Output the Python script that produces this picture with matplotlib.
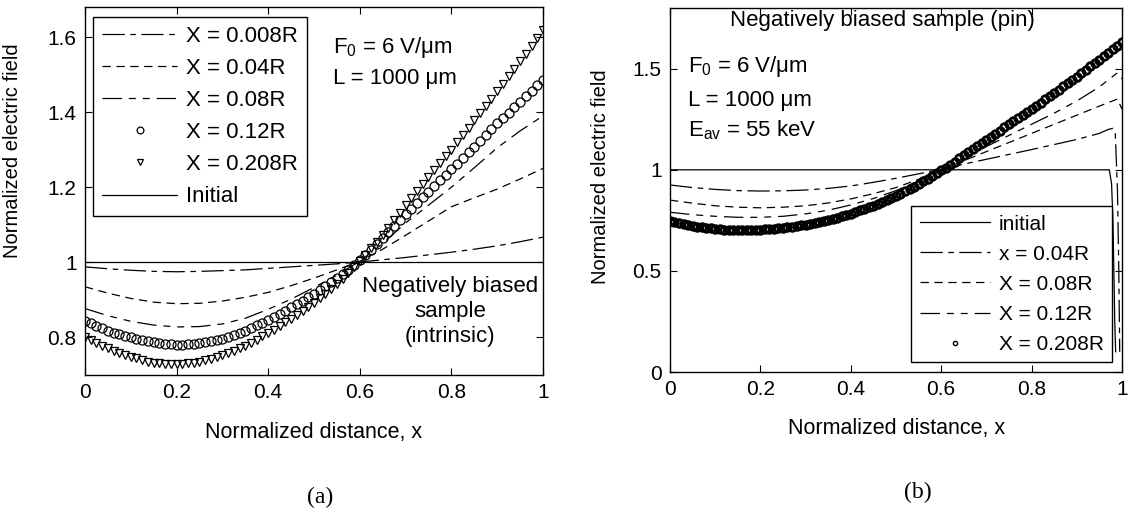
import numpy as np
import matplotlib
matplotlib.use("Agg")
import matplotlib.pyplot as plt

plt.rcParams['font.family'] = ['Liberation Sans', 'DejaVu Sans']
plt.rcParams['mathtext.fontset'] = 'custom'
plt.rcParams['mathtext.rm'] = 'Liberation Sans'
plt.rcParams['mathtext.it'] = 'Liberation Sans:italic'
plt.rcParams['lines.scale_dashes'] = False

# ---------------- data: panel (a) ----------------
xa_lines = [0.00, 0.05, 0.10, 0.15, 0.20, 0.25, 0.30, 0.35, 0.40, 0.45, 0.50,
            0.55, 0.60, 0.65, 0.70, 0.75, 0.80, 0.85, 0.90, 0.95, 1.00]
a_x0008 = [0.988, 0.983, 0.979, 0.976, 0.975, 0.976, 0.978, 0.980, 0.984, 0.988, 0.992,
           0.996, 1.001, 1.007, 1.013, 1.020, 1.027, 1.035, 1.044, 1.055, 1.067]
a_x004 = [0.935, 0.918, 0.904, 0.894, 0.890, 0.891, 0.897, 0.907, 0.920, 0.938, 0.958,
          0.980, 1.003, 1.035, 1.072, 1.110, 1.148, 1.172, 1.195, 1.222, 1.250]
a_x008 = [0.877, 0.858, 0.843, 0.833, 0.828, 0.829, 0.836, 0.851, 0.875, 0.902, 0.933,
          0.966, 1.003, 1.050, 1.105, 1.152, 1.200, 1.252, 1.305, 1.350, 1.390]
a_initial_x = [0.0, 1.0]
a_initial = [1.0, 1.0]

a_x012 = [0.845, 0.838, 0.831, 0.824, 0.818, 0.813, 0.808, 0.804, 0.800, 0.796, 0.793,
          0.790, 0.787, 0.785, 0.783, 0.782, 0.781, 0.781, 0.782, 0.783, 0.785, 0.788,
          0.791, 0.794, 0.797, 0.802, 0.807, 0.812, 0.818, 0.825, 0.832, 0.839, 0.847,
          0.855, 0.863, 0.871, 0.880, 0.889, 0.898, 0.907, 0.916, 0.926, 0.936, 0.947,
          0.958, 0.969, 0.980, 0.992, 1.005, 1.019, 1.034, 1.049, 1.065, 1.081, 1.097,
          1.112, 1.128, 1.143, 1.158, 1.173, 1.188, 1.203, 1.218, 1.233, 1.248, 1.263,
          1.278, 1.293, 1.308, 1.324, 1.339, 1.355, 1.370, 1.385, 1.399, 1.414, 1.428,
          1.442, 1.457, 1.471, 1.485]
a_x0208 = [0.800, 0.792, 0.785, 0.778, 0.771, 0.765, 0.759, 0.753, 0.748, 0.744, 0.740,
           0.736, 0.733, 0.731, 0.730, 0.729, 0.729, 0.730, 0.731, 0.733, 0.735, 0.739,
           0.743, 0.747, 0.752, 0.758, 0.764, 0.771, 0.778, 0.786, 0.794, 0.803, 0.812,
           0.821, 0.831, 0.840, 0.850, 0.860, 0.871, 0.882, 0.893, 0.905, 0.917, 0.930,
           0.943, 0.957, 0.972, 0.987, 1.003, 1.020, 1.037, 1.054, 1.072, 1.092, 1.112,
           1.132, 1.152, 1.171, 1.190, 1.209, 1.228, 1.246, 1.264, 1.282, 1.300, 1.320,
           1.339, 1.359, 1.378, 1.397, 1.417, 1.436, 1.455, 1.475, 1.495, 1.515, 1.535,
           1.556, 1.576, 1.597, 1.618]
xa_markers = np.linspace(0.0, 1.0, len(a_x012))

a_labels = ['X = 0.008R', 'X = 0.04R', 'X = 0.08R', 'X = 0.12R', 'X = 0.208R', 'Initial']
a_yticks = [0.8, 1.0, 1.2, 1.4, 1.6]
a_yticklabels = ['0.8', '1', '1.2', '1.4', '1.6']

# ---------------- data: panel (b) ----------------
b_initial_x = [0.0, 0.972, 0.977, 0.980, 0.982, 0.984, 0.986]
b_initial = [1.0, 1.0, 0.93, 0.75, 0.50, 0.25, 0.10]

xb_x004 = [0.00, 0.05, 0.10, 0.15, 0.20, 0.25, 0.30, 0.35, 0.40, 0.45, 0.50, 0.55, 0.60,
           0.65, 0.70, 0.75, 0.80, 0.85, 0.90, 0.95, 0.97, 0.98, 0.985, 0.99, 0.993, 0.995]
b_x004 = [0.925, 0.912, 0.903, 0.897, 0.895, 0.896, 0.900, 0.908, 0.920, 0.938, 0.958,
          0.980, 1.003, 1.028, 1.052, 1.076, 1.100, 1.125, 1.150, 1.180, 1.200, 1.205,
          1.190, 0.900, 0.500, 0.100]
xb_lines = [0.00, 0.05, 0.10, 0.15, 0.20, 0.25, 0.30, 0.35, 0.40, 0.45, 0.50, 0.55, 0.60,
            0.65, 0.70, 0.75, 0.80, 0.85, 0.90, 0.95, 0.99, 1.00]
b_x008 = [0.850, 0.835, 0.822, 0.815, 0.812, 0.815, 0.822, 0.836, 0.856, 0.882, 0.912,
          0.953, 1.000, 1.045, 1.090, 1.135, 1.180, 1.225, 1.270, 1.315, 1.350, 1.300]
b_x012 = [0.790, 0.778, 0.770, 0.765, 0.765, 0.770, 0.782, 0.800, 0.826, 0.858, 0.897,
          0.945, 1.000, 1.058, 1.115, 1.170, 1.225, 1.280, 1.340, 1.410, 1.480, 1.450]
b_x0208 = [0.745, 0.740, 0.735, 0.731, 0.726, 0.722, 0.719, 0.716, 0.713, 0.710, 0.707,
           0.706, 0.704, 0.703, 0.702, 0.701, 0.701, 0.701, 0.702, 0.702, 0.703, 0.705,
           0.706, 0.708, 0.710, 0.712, 0.715, 0.718, 0.721, 0.725, 0.728, 0.733, 0.737,
           0.742, 0.747, 0.752, 0.758, 0.764, 0.770, 0.777, 0.783, 0.791, 0.799, 0.807,
           0.815, 0.823, 0.832, 0.841, 0.851, 0.861, 0.871, 0.882, 0.893, 0.905, 0.917,
           0.930, 0.943, 0.956, 0.969, 0.983, 0.997, 1.011, 1.026, 1.041, 1.056, 1.071,
           1.087, 1.102, 1.118, 1.133, 1.148, 1.163, 1.179, 1.194, 1.210, 1.225, 1.240,
           1.255, 1.270, 1.285, 1.300, 1.316, 1.332, 1.348, 1.364, 1.380, 1.396, 1.412,
           1.428, 1.444, 1.460, 1.477, 1.494, 1.511, 1.528, 1.545, 1.562, 1.579, 1.596,
           1.613, 1.630]
xb_markers = np.linspace(0.0, 1.0, len(b_x0208))

b_labels = ['initial', 'x = 0.04R', 'X = 0.08R', 'X = 0.12R', 'X = 0.208R']
b_yticks = [0.0, 0.5, 1.0, 1.5]
b_yticklabels = ['0', '0.5', '1', '1.5']

xticks = [0.0, 0.2, 0.4, 0.6, 0.8, 1.0]
xticklabels = ['0', '0.2', '0.4', '0.6', '0.8', '1']

# ---------------- styles ----------------
DASH_LONG_SHORT = (0, (16, 4, 4, 4))
DASHED = (0, (6, 4))
DASH_LONG_2SHORT = (0, (14, 5, 5, 5, 5, 5))
LW = 0.9
FS = 16          # annotation text
FS_LAB = 15.5    # axis labels
FS_TICK = 15     # tick labels

fig = plt.figure(figsize=(11.3, 5.11), dpi=100)
axa = fig.add_axes([0.0752, 0.2661, 0.4053, 0.7202])
axb = fig.add_axes([0.5929, 0.2720, 0.4000, 0.7123])

# panel (a)
la1, = axa.plot(xa_lines, a_x0008, color='black', lw=LW, linestyle=DASH_LONG_SHORT)
la2, = axa.plot(xa_lines, a_x004, color='black', lw=LW, linestyle=DASHED)
la3, = axa.plot(xa_lines, a_x008, color='black', lw=LW, linestyle=DASH_LONG_2SHORT)
la4, = axa.plot(xa_markers, a_x012, linestyle='none', marker='o', ms=6.5,
                mfc='none', mec='black', mew=0.9)
la5, = axa.plot(xa_markers, a_x0208, linestyle='none', marker='v', ms=6,
                mfc='none', mec='black', mew=0.9)
la6, = axa.plot(a_initial_x, a_initial, color='black', lw=LW, linestyle='-')

axa.set_xlim(0, 1)
axa.set_ylim(0.7, 1.68)
axa.set_xticks(xticks)
axa.set_xticklabels(xticklabels)
axa.set_yticks(a_yticks)
axa.set_yticklabels(a_yticklabels)
axa.set_xlabel('Normalized distance, x', fontsize=FS_LAB)
axa.set_ylabel('Normalized electric field', fontsize=14.5)
axa.xaxis.set_label_coords(0.5, -0.127)
axa.yaxis.set_label_coords(-0.138, 0.61)

leg_a = axa.legend([la1, la2, la3, la4, la5, la6], a_labels, loc='upper left',
                   bbox_to_anchor=(0.0175, 0.973), borderaxespad=0, fontsize=FS,
                   frameon=True, fancybox=False, edgecolor='black', framealpha=1,
                   handlelength=3.4, handletextpad=0.4, labelspacing=0.5,
                   borderpad=0.4, markerscale=0.75)
leg_a.get_frame().set_linewidth(1.0)

axa.text(0.541, 1.573, 'F$_0$ = 6 V/μm', fontsize=FS, va='center', ha='left')
axa.text(0.541, 1.49, 'L = 1000 μm', fontsize=FS, va='center', ha='left')
axa.text(0.797, 0.869, 'Negatively biased\nsample\n(intrinsic)', fontsize=FS,
         va='center', ha='center', linespacing=1.25)

# panel (b)
lb1, = axb.plot(b_initial_x, b_initial, color='black', lw=LW, linestyle='-')
lb2, = axb.plot(xb_x004, b_x004, color='black', lw=LW, linestyle=DASH_LONG_SHORT)
lb3, = axb.plot(xb_lines, b_x008, color='black', lw=LW, linestyle=DASHED)
lb4, = axb.plot(xb_lines, b_x012, color='black', lw=LW, linestyle=DASH_LONG_2SHORT)
lb5, = axb.plot(xb_markers, b_x0208, linestyle='none', marker='o', ms=5.5,
                mfc='none', mec='black', mew=2.0)

axb.set_xlim(0, 1)
axb.set_ylim(0, 1.8)
axb.set_xticks(xticks)
axb.set_xticklabels(xticklabels)
axb.set_yticks(b_yticks)
axb.set_yticklabels(b_yticklabels)
axb.set_xlabel('Normalized distance, x', fontsize=FS_LAB)
axb.set_ylabel('Normalized electric field', fontsize=14.5)
axb.xaxis.set_label_coords(0.502, -0.125)
axb.yaxis.set_label_coords(-0.133, 0.536)

leg_b = axb.legend([lb1, lb2, lb3, lb4, lb5], b_labels, loc='lower right',
                   bbox_to_anchor=(0.978, 0.027), borderaxespad=0, fontsize=15,
                   frameon=True, fancybox=False, edgecolor='black', framealpha=1,
                   handlelength=3.4, handletextpad=0.4, labelspacing=0.53,
                   borderpad=0.4, markerscale=0.55)
leg_b.get_frame().set_linewidth(1.0)
for h in leg_b.legend_handles[4:]:
    h.set_markeredgewidth(1.0)

axb.text(0.469, 1.74, 'Negatively biased sample (pin)', fontsize=FS,
         va='center', ha='center')
axb.text(0.04, 1.51, 'F$_0$ = 6 V/μm', fontsize=FS, va='center', ha='left')
axb.text(0.04, 1.345, 'L = 1000 μm', fontsize=FS, va='center', ha='left')
axb.text(0.04, 1.197, 'E$_{\\mathrm{av}}$ = 55 keV', fontsize=FS, va='center', ha='left')

for ax in (axa, axb):
    ax.tick_params(direction='in', top=True, right=True, length=5, width=0.8,
                   labelsize=FS_TICK, pad=6)
    for s in ax.spines.values():
        s.set_linewidth(1.0)

fig.text(320 / 1130, 1 - 497 / 511, '(a)', fontsize=17, family='Liberation Serif',
         ha='center', va='center')
fig.text(918 / 1130, 1 - 492 / 511, '(b)', fontsize=17, family='Liberation Serif',
         ha='center', va='center')

fig.savefig('out.png', dpi=100, facecolor='white')
